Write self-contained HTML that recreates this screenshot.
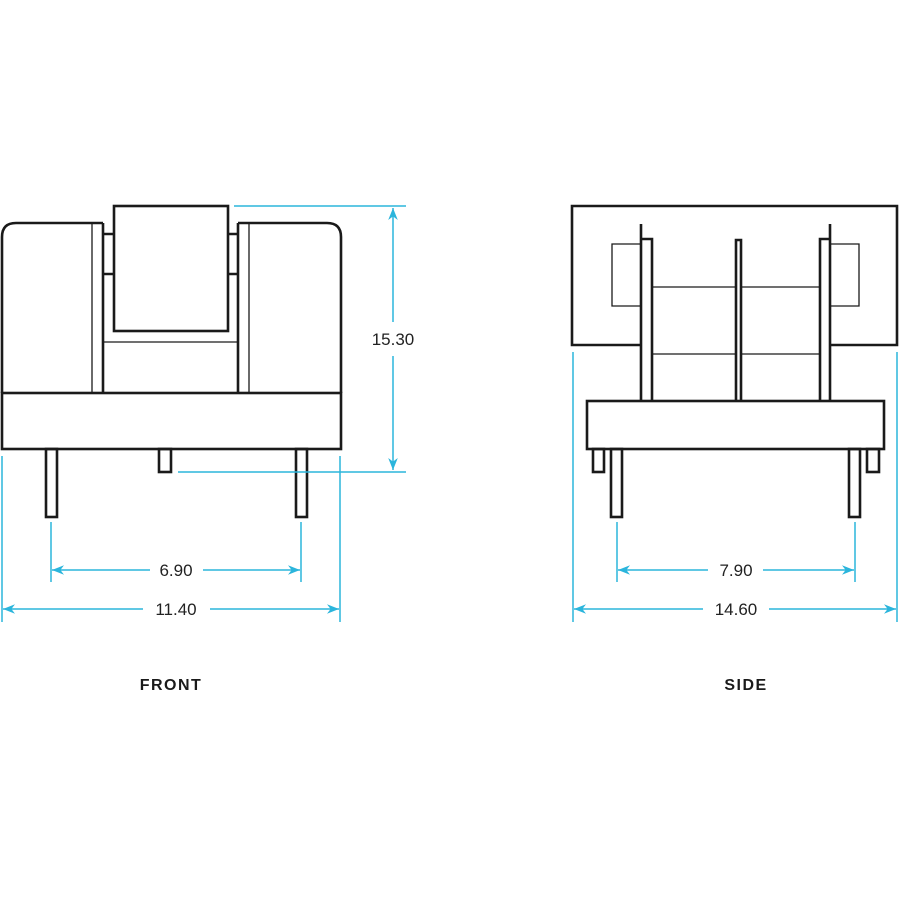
<!DOCTYPE html>
<html><head><meta charset="utf-8"><style>
html,body{margin:0;padding:0;background:#fff;}
svg{display:block}
.t{font-family:"Liberation Sans",sans-serif;font-size:17px;fill:#222;}
.l{font-family:"Liberation Sans",sans-serif;font-size:16px;font-weight:bold;fill:#1a1a1a;letter-spacing:1.5px;}
</style></head><body>
<svg width="900" height="900" viewBox="0 0 900 900" xmlns="http://www.w3.org/2000/svg">
<defs>
<marker id="a" viewBox="0 0 10 10" refX="10" refY="5" markerWidth="12" markerHeight="12" markerUnits="userSpaceOnUse" orient="auto-start-reverse">
<path d="M0,1 L10,5 L0,9 L3,5 Z" fill="#2bb5dc"/>
</marker>
</defs>
<g fill="none" stroke="#1a1a1a" stroke-width="2.6">
<!-- FRONT -->
<path d="M2,393 V237 Q2,223 16,223 H103"/>
<path d="M238,223 H327 Q341,223 341,237 V393"/>
<path d="M103,223 V393 M238,223 V393"/>
<rect x="2" y="393" width="339" height="56"/>
<rect x="114" y="206" width="114" height="125"/>
<path d="M103,234 H114 M103,274 H114 M228,234 H238 M228,274 H238"/>
<rect x="46" y="449" width="11" height="68"/>
<rect x="296" y="449" width="11" height="68"/>
<rect x="159" y="449" width="12" height="23"/>
</g>
<g fill="none" stroke="#1a1a1a" stroke-width="1.3">
<path d="M92,223 V393 M249,223 V393 M103,342 H238"/>
</g>
<!-- SIDE -->
<g fill="none" stroke="#1a1a1a" stroke-width="2.6">
<path d="M641,345 H572 V206 H897 V345 H830"/>
<path d="M641,224 V401 M830,224 V401"/>
<path d="M641,239 H652 V401 M830,239 H820 V401"/>
<path d="M736,401 V240 H741 V401"/>
<rect x="587" y="401" width="297" height="48"/>
<rect x="593" y="449" width="11" height="23"/>
<rect x="611" y="449" width="11" height="68"/>
<rect x="849" y="449" width="11" height="68"/>
<rect x="867" y="449" width="12" height="23"/>
</g>
<g fill="none" stroke="#1a1a1a" stroke-width="1.3">
<path d="M641,244 H612 V306 H641 M830,244 H859 V306 H830"/>
<path d="M652,287 H736 M741,287 H820 M652,354 H736 M741,354 H820"/>
</g>
<!-- dims -->
<g fill="none" stroke="#2bb5dc" stroke-width="1.5">
<path d="M234,206 H406 M178,472 H406"/>
<path d="M2,456 V622 M340,456 V622 M51,522 V582 M301,522 V582"/>
<path d="M573,352 V622 M897,352 V622 M617,522 V582 M855,522 V582"/>
</g>
<g fill="none" stroke="#2bb5dc" stroke-width="1.5">
<line x1="393" y1="322" x2="393" y2="208" marker-end="url(#a)"/>
<line x1="393" y1="356" x2="393" y2="470" marker-end="url(#a)"/>
<line x1="150" y1="570" x2="52" y2="570" marker-end="url(#a)"/>
<line x1="203" y1="570" x2="300" y2="570" marker-end="url(#a)"/>
<line x1="143" y1="609" x2="3" y2="609" marker-end="url(#a)"/>
<line x1="210" y1="609" x2="339" y2="609" marker-end="url(#a)"/>
<line x1="708" y1="570" x2="618" y2="570" marker-end="url(#a)"/>
<line x1="763" y1="570" x2="854" y2="570" marker-end="url(#a)"/>
<line x1="703" y1="609" x2="574" y2="609" marker-end="url(#a)"/>
<line x1="769" y1="609" x2="896" y2="609" marker-end="url(#a)"/>
</g>
<text class="t" x="393" y="345" text-anchor="middle">15.30</text>
<text class="t" x="176" y="576" text-anchor="middle">6.90</text>
<text class="t" x="176" y="615" text-anchor="middle">11.40</text>
<text class="t" x="736" y="576" text-anchor="middle">7.90</text>
<text class="t" x="736" y="615" text-anchor="middle">14.60</text>
<text class="l" x="171" y="690" text-anchor="middle">FRONT</text>
<text class="l" x="746" y="690" text-anchor="middle">SIDE</text>
</svg>
</body></html>
